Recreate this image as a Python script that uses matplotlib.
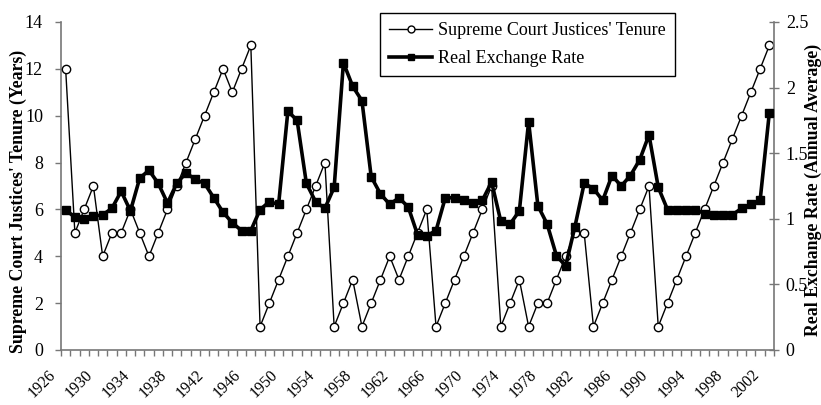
import matplotlib
matplotlib.use("Agg")
import matplotlib.pyplot as plt
from matplotlib.lines import Line2D
from matplotlib.transforms import ScaledTranslation

years = list(range(1926, 2003))
tenure = [12, 5, 6, 7, 4, 5, 5, 6, 5, 4,
          5, 6, 7, 8, 9, 10, 11, 12, 11, 12,
          13, 1, 2, 3, 4, 5, 6, 7, 8, 1,
          2, 3, 1, 2, 3, 4, 3, 4, 5, 6,
          1, 2, 3, 4, 5, 6, 7, 1, 2, 3,
          1, 2, 2, 3, 4, 5, 5, 1, 2, 3,
          4, 5, 6, 7, 1, 2, 3, 4, 5, 6,
          7, 8, 9, 10, 11, 12, 13]
exchange_rate = [1.07, 1.01, 1.00, 1.02, 1.03, 1.08, 1.21, 1.06, 1.31, 1.37,
                 1.27, 1.12, 1.27, 1.35, 1.30, 1.27, 1.16, 1.05, 0.97, 0.91,
                 0.91, 1.07, 1.13, 1.11, 1.82, 1.75, 1.27, 1.13, 1.08, 1.24,
                 2.19, 2.01, 1.90, 1.32, 1.19, 1.11, 1.16, 1.09, 0.88, 0.87,
                 0.91, 1.16, 1.16, 1.14, 1.12, 1.14, 1.28, 0.98, 0.96, 1.06,
                 1.74, 1.10, 0.96, 0.72, 0.64, 0.94, 1.27, 1.23, 1.14, 1.33,
                 1.25, 1.33, 1.45, 1.64, 1.24, 1.07, 1.07, 1.07, 1.07, 1.04,
                 1.03, 1.03, 1.03, 1.08, 1.11, 1.14, 1.81]
series_labels = ["Supreme Court Justices' Tenure", "Real Exchange Rate"]
left_ticks = [0, 2, 4, 6, 8, 10, 12, 14]
right_ticks = [0, 0.5, 1, 1.5, 2, 2.5]
right_ticklabels = ["0", "0.5", "1", "1.5", "2", "2.5"]

serif = ["Liberation Serif", "DejaVu Serif"]
W, H = 821, 405
fig = plt.figure(figsize=(W / 100, H / 100), dpi=100)
ax = fig.add_axes([61 / W, 1 - 350 / H, (774 - 61) / W, (350 - 22) / H])
ax2 = ax.twinx()

x = list(range(len(years)))
ax.plot(x, tenure, color="black", lw=1.0, marker="o", ms=6, mfc="white",
        mec="black", mew=1.0, zorder=3)
ax2.plot(x, exchange_rate, color="black", lw=2.6, marker="s", ms=6,
         mfc="black", mec="black", zorder=3)

ax.set_xlim(-0.5, len(years) - 0.5)
ax.set_ylim(0, 14)
ax2.set_ylim(0, 2.5)

spine_col = "#777777"
for a in (ax, ax2):
    for s in a.spines.values():
        s.set_visible(False)
ax.spines["left"].set_visible(True)
ax.spines["bottom"].set_visible(True)
ax2.spines["right"].set_visible(True)
for s in (ax.spines["left"], ax.spines["bottom"], ax2.spines["right"]):
    s.set_color(spine_col)
    s.set_linewidth(1.2)

ax.set_yticks(left_ticks)
ax.set_yticklabels([str(v) for v in left_ticks], fontfamily=serif, fontsize=13)
ax2.set_yticks(right_ticks)
ax2.set_yticklabels(right_ticklabels, fontfamily=serif, fontsize=13)
ax.tick_params(axis="y", direction="out", length=4, width=1, color=spine_col, pad=9)
ax2.tick_params(axis="y", direction="inout", length=7, width=1, color=spine_col, pad=5)

# category boundary ticks
ax.set_xticks([i - 0.5 for i in range(len(years) + 1)], minor=True)
ax.tick_params(axis="x", which="minor", direction="out", length=4, width=1,
               color=spine_col)
label_idx = list(range(0, len(years), 4))
ax.set_xticks(label_idx)
ax.set_xticklabels([str(years[i]) for i in label_idx], fontfamily=serif,
                   fontsize=11.5, rotation=45, ha="right", va="top",
                   rotation_mode="anchor")
ax.tick_params(axis="x", which="major", length=0, pad=12)
off = ScaledTranslation(-18 / 100, 0, fig.dpi_scale_trans)
for lab in ax.get_xticklabels():
    lab.set_transform(lab.get_transform() + off)

fig.text(18 / W, 1 - 201 / H, "Supreme Court Justices' Tenure (Years)",
         rotation=90, ha="center", va="center", fontfamily=serif,
         fontweight="bold", fontsize=12.8)
fig.text(813 / W, 1 - 190 / H, "Real Exchange Rate (Annual Average)",
         rotation=90, ha="center", va="center", fontfamily=serif,
         fontweight="bold", fontsize=12.8)

handles = [Line2D([], [], color="black", lw=1.0, marker="o", ms=5, mfc="white",
                  mec="black"),
           Line2D([], [], color="black", lw=2.6, marker="s", ms=5, mfc="black")]
leg = ax2.legend(handles, series_labels, loc="upper left",
                 bbox_to_anchor=(380 / W, 1 - 13 / H),
                 bbox_transform=fig.transFigure, frameon=True, fancybox=False,
                 edgecolor="black", framealpha=1, prop={"family": serif, "size": 13},
                 handlelength=2.4, handletextpad=0.3, borderpad=0.5,
                 labelspacing=0.6, borderaxespad=0)
leg.get_frame().set_linewidth(1.0)

fig.savefig("out.png", dpi=100)
